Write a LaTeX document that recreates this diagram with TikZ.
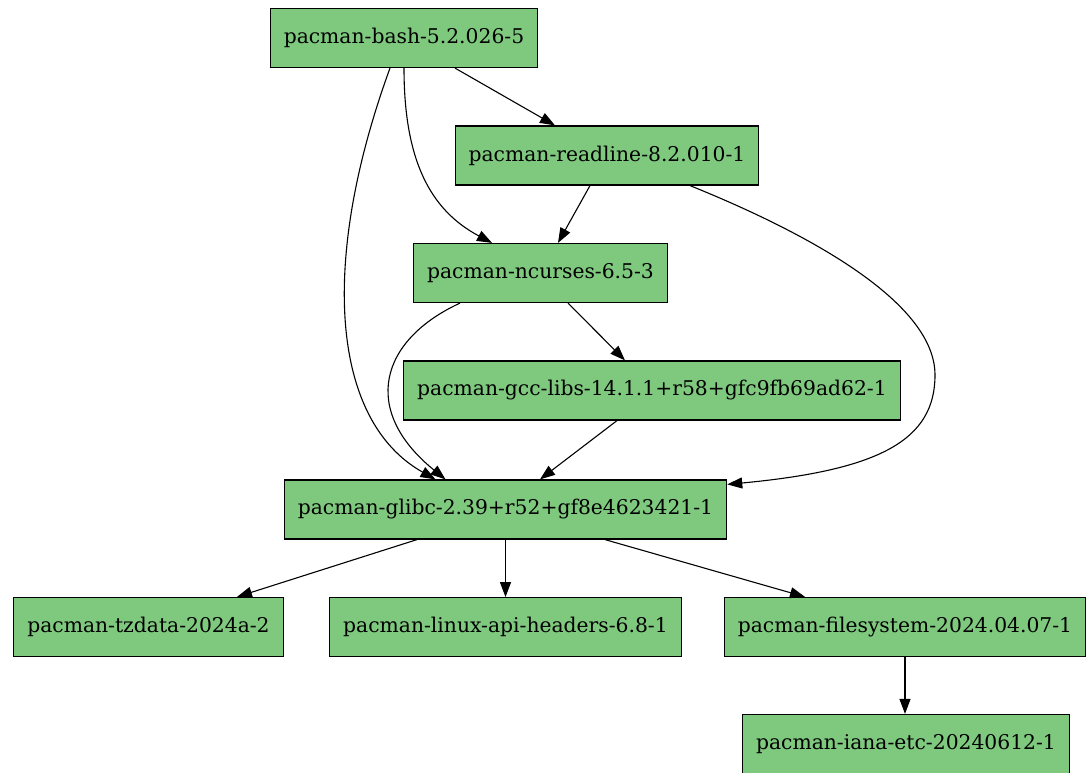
\documentclass[tikz,border=0pt]{standalone}
\usepackage{fontspec}
\setmainfont{DejaVu Serif}
\usetikzlibrary{arrows.meta,positioning}

\definecolor{pkggreen}{RGB}{127,201,127}

\begin{document}
\begin{tikzpicture}[
        x=1pt, y=-1pt,
        font=\fontsize{20.3}{24}\selectfont,
        node distance=57.5pt and 30pt,
        pkg/.style={draw, fill=pkggreen, line width=1.2pt,
            minimum height=59pt, inner xsep=13.5pt, inner ysep=0pt},
        dep/.style={-{Triangle[length=15pt, width=11pt]}, line width=1.1pt}
    ]
    \useasboundingbox (0,0) rectangle (1090,773);

    \node[pkg] (bash) at (404,38) {pacman-bash-5.2.026-5};
    \node[pkg] (readline) at (607,155.5) {pacman-readline-8.2.010-1};
    \node[pkg] (ncurses) at (540.5,273) {pacman-ncurses-6.5-3};
    \node[pkg] (gcclibs) at (652,390.5) {pacman-gcc-libs-14.1.1+r58+gfc9fb69ad62-1};
    \node[pkg] (glibc) at (505.5,509.5) {pacman-glibc-2.39+r52+gf8e4623421-1};
    \node[pkg, below=of glibc] (apiheaders) {pacman-linux-api-headers-6.8-1};
    \node[pkg] (tzdata) at (148.5,627) {pacman-tzdata-2024a-2};
    \node[pkg] (filesystem) at (905,627) {pacman-filesystem-2024.04.07-1};
    \node[pkg] (ianaetc) at (906,744) {pacman-iana-etc-20240612-1};

    % bash
    \draw[dep] ([xshift=51pt]bash.south) -- ([xshift=-52pt]readline.north);
    \draw[dep] (bash.south) .. controls (404,160) and (430,210)
        .. ([xshift=-48.5pt]ncurses.north);
    \draw[dep] ([xshift=-14pt]bash.south) .. controls (320,260) and (330,420)
        .. ([xshift=-70pt]glibc.north);
    % readline
    \draw[dep] ([xshift=-17pt]readline.south) -- ([xshift=17.5pt]ncurses.north);
    \draw[dep] ([xshift=83pt]readline.south) .. controls (800,230) and (935,300)
        .. (935,375) .. controls (935,440) and (880,470)
        .. ([yshift=-5pt]glibc.north east);
    % ncurses
    \draw[dep] ([xshift=27.5pt]ncurses.south) -- ([xshift=-27pt]gcclibs.north);
    \draw[dep] ([xshift=-80.5pt]ncurses.south) .. controls (380,340) and (360,410)
        .. ([xshift=-60pt]glibc.north);
    % gcc-libs
    \draw[dep] ([xshift=-35pt]gcclibs.south) -- ([xshift=34.5pt]glibc.north);
    % glibc
    \draw[dep] ([xshift=-88.5pt]glibc.south) -- ([xshift=88.5pt]tzdata.north);
    \draw[dep] (glibc) -- (apiheaders);
    \draw[dep] ([xshift=99.5pt]glibc.south) -- ([xshift=-100pt]filesystem.north);
    % filesystem
    \draw[dep] (filesystem.south) -- (filesystem.south |- ianaetc.north);
\end{tikzpicture}
\end{document}
